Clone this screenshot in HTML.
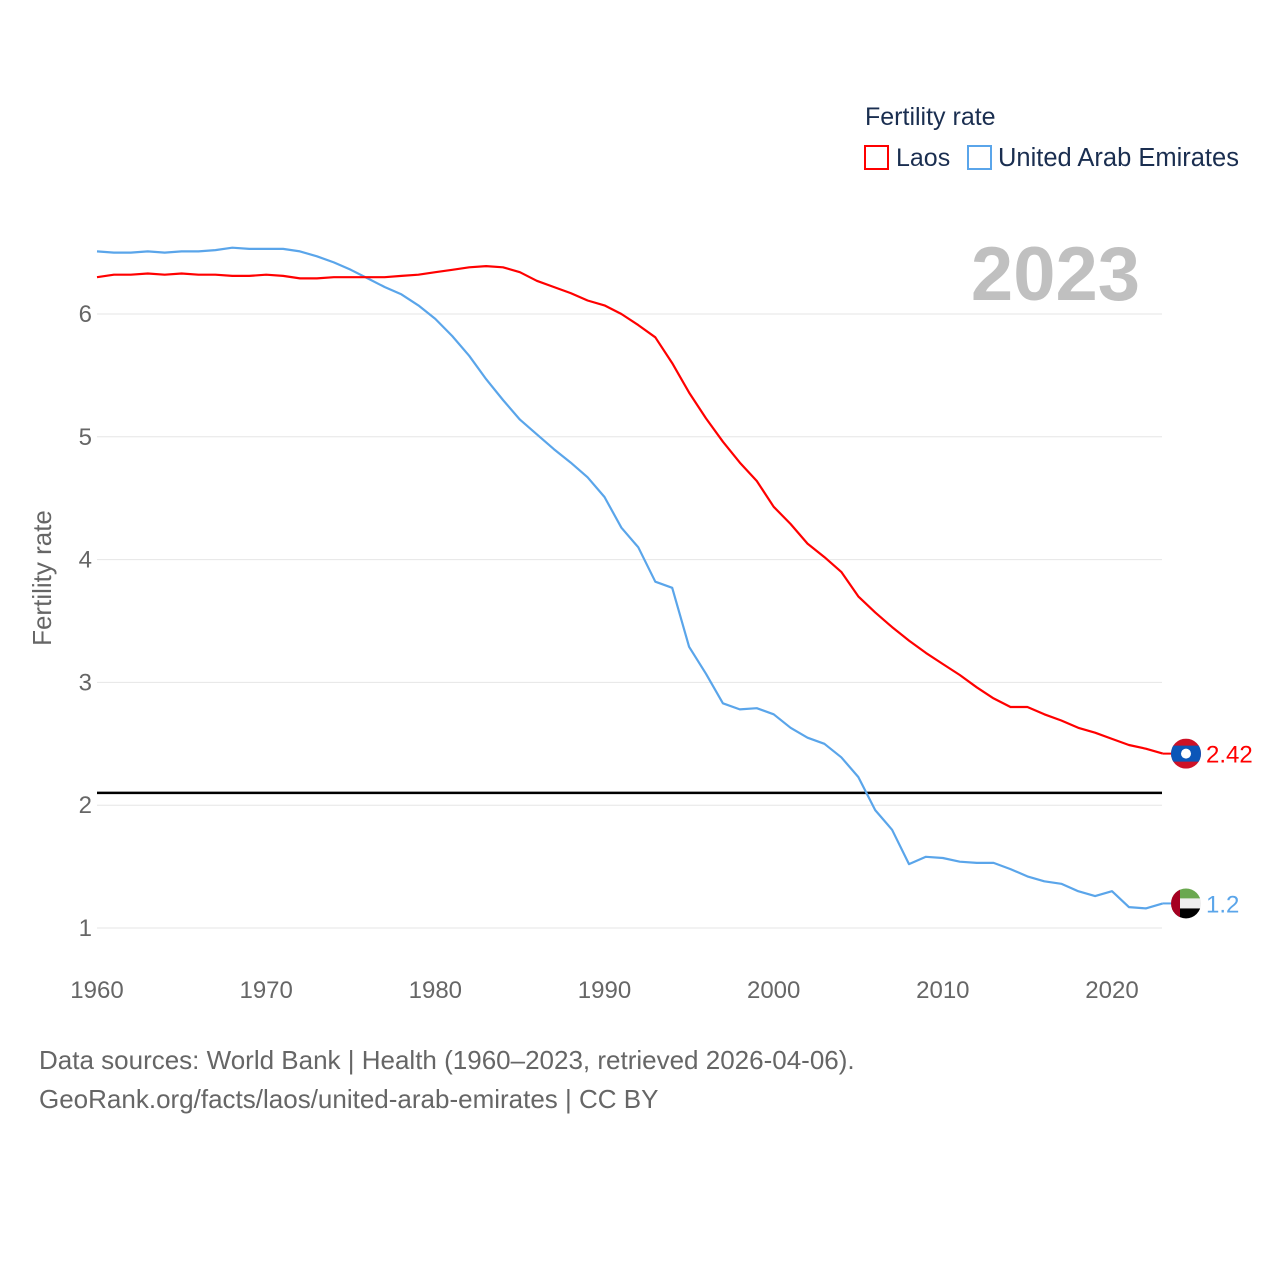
<!DOCTYPE html>
<html><head><meta charset="utf-8"><style>
body{margin:0;background:#fff;font-family:"Liberation Sans",sans-serif}
svg text{font-family:"Liberation Sans",sans-serif}
</style></head><body>
<svg id="chart" width="1280" height="1280" viewBox="0 0 1280 1280" xmlns="http://www.w3.org/2000/svg">
<rect width="1280" height="1280" fill="#fff"/>
<g id="grid"></g>
<g id="ticks"></g>
<line id="repl" stroke="#000" stroke-width="2.5"/>
<g id="series"></g>
<text x="1140" y="300" text-anchor="end" font-size="76" font-weight="bold" fill="#c0c0c0">2023</text>
<text transform="translate(51,578) rotate(-90)" text-anchor="middle" font-size="26" fill="#666">Fertility rate</text>
<g>
<text x="865" y="125" font-size="25" fill="#1a2e50">Fertility rate</text>
<g>
<rect x="865" y="146" width="23" height="23" fill="none" stroke="#f00" stroke-width="2"/>
<text x="896" y="166" font-size="25" fill="#1a2e50">Laos</text></g>
<g>
<rect x="968" y="146" width="23" height="23" fill="none" stroke="#5aa5ea" stroke-width="2"/>
<text x="998" y="166" font-size="25.5" fill="#1a2e50">United Arab Emirates</text></g>
</g>
<text x="39" y="1069" font-size="26" fill="#666">Data sources: World Bank | Health (1960–2023, retrieved 2026-04-06).</text>
<text x="39" y="1108" font-size="26" fill="#666">GeoRank.org/facts/laos/united-arab-emirates | CC BY</text>
</svg>
<script>
const years = Array.from({length:64},(_,i)=>1960+i);
const laos = [6.30,6.32,6.32,6.33,6.32,6.33,6.32,6.32,6.31,6.31,6.32,6.31,6.29,6.29,6.30,6.30,6.30,6.30,6.31,6.32,6.34,6.36,6.38,6.39,6.38,6.34,6.27,6.22,6.17,6.11,6.07,6.00,5.91,5.81,5.60,5.36,5.15,4.96,4.79,4.64,4.43,4.29,4.13,4.02,3.90,3.70,3.57,3.45,3.34,3.24,3.15,3.06,2.96,2.87,2.80,2.80,2.74,2.69,2.63,2.59,2.54,2.49,2.46,2.42];
const uae = [6.51,6.50,6.50,6.51,6.50,6.51,6.51,6.52,6.54,6.53,6.53,6.53,6.51,6.47,6.42,6.36,6.29,6.22,6.16,6.07,5.96,5.82,5.66,5.47,5.30,5.14,5.02,4.90,4.79,4.67,4.51,4.26,4.10,3.82,3.77,3.29,3.07,2.83,2.78,2.79,2.74,2.63,2.55,2.50,2.39,2.23,1.96,1.80,1.52,1.58,1.57,1.54,1.53,1.53,1.48,1.42,1.38,1.36,1.30,1.26,1.30,1.17,1.16,1.20];
const yTicks = [1,2,3,4,5,6];
const xTicks = [1960,1970,1980,1990,2000,2010,2020];
const replacement = 2.1;
const lastLaosLabel = "2.42", lastUaeLabel = "1.2";
const NS="http://www.w3.org/2000/svg";
const X=y=>97+(y-1960)*(1112-97)/60;
const Y=v=>928-(v-1)*122.8;
function mk(t,a,p){const e=document.createElementNS(NS,t);for(const k in a)e.setAttribute(k,a[k]);(p||document.getElementById('chart')).appendChild(e);return e;}
const grid=document.getElementById('grid'),ticks=document.getElementById('ticks'),ser=document.getElementById('series');
yTicks.forEach(v=>{
 const l=mk('line',{x1:97,x2:1162,y1:Y(v),y2:Y(v),stroke:'#e6e6e6','stroke-width':1},grid);
 
 
 const t=mk('text',{x:92,y:Y(v)+8,'text-anchor':'end','font-size':24,fill:'#666'},ticks);
 
 
 t.textContent=v;
});
xTicks.forEach(v=>{
 const t=mk('text',{x:X(v),y:998,'text-anchor':'middle','font-size':24,fill:'#666'},ticks);
 
 
 t.textContent=v;
});
const r=document.getElementById('repl');
r.setAttribute('x1',97);r.setAttribute('x2',1162);r.setAttribute('y1',Y(replacement));r.setAttribute('y2',Y(replacement));
function line(data,color,name){
 const p=mk('path',{d:data.map((v,i)=>(i?'L':'M')+X(years[i]).toFixed(1)+','+Y(v).toFixed(1)).join(''),fill:'none',stroke:color,'stroke-width':2.2,'stroke-linejoin':'round'},ser);
 
 
}
line(uae,'#5aa5ea','line-uae');
line(laos,'#f00','line-laos');
const lx=X(2023), ly=Y(laos[63]), ux=X(2023), uy=Y(uae[63]);
const cx=1186;
mk('line',{x1:lx,x2:cx-15,y1:ly,y2:ly,stroke:'#f00','stroke-width':2},ser);
mk('line',{x1:ux,x2:cx-15,y1:uy,y2:uy,stroke:'#5aa5ea','stroke-width':2},ser);
const defs=mk('defs',{});
const c1=mk('clipPath',{id:'cl1'},defs);mk('circle',{cx:cx,cy:ly,r:15},c1);
const c2=mk('clipPath',{id:'cl2'},defs);mk('circle',{cx:cx,cy:uy,r:15},c2);
const f1=mk('g',{'clip-path':'url(#cl1)'},ser);


mk('rect',{x:cx-15,y:ly-15,width:30,height:30,fill:'#ce1126'},f1);
mk('rect',{x:cx-15,y:ly-8,width:30,height:16,fill:'#0b56b8'},f1);
mk('circle',{cx:cx,cy:ly,r:5,fill:'#fff'},f1);
const f2=mk('g',{'clip-path':'url(#cl2)'},ser);


mk('rect',{x:cx-15,y:uy-15,width:30,height:10,fill:'#6aa84f'},f2);
mk('rect',{x:cx-15,y:uy-5,width:30,height:10,fill:'#eee'},f2);
mk('rect',{x:cx-15,y:uy+5,width:30,height:10,fill:'#000'},f2);
mk('rect',{x:cx-15,y:uy-15,width:9,height:30,fill:'#a50021'},f2);
const t1=mk('text',{x:1206,y:ly+9,'font-size':24,fill:'#f00'},ser);


t1.textContent=lastLaosLabel;
const t2=mk('text',{x:1206,y:uy+9,'font-size':24,fill:'#5aa5ea'},ser);


t2.textContent=lastUaeLabel;
</script>
</body></html>
